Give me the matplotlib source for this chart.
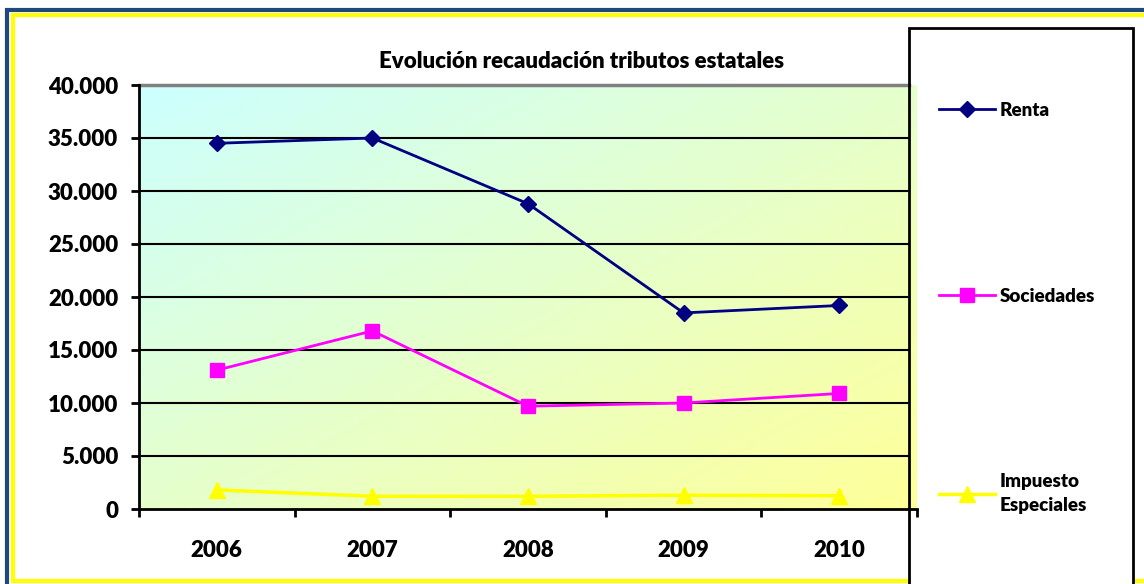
import numpy as np
import matplotlib.pyplot as plt
from matplotlib.patches import Rectangle
from matplotlib.ticker import FuncFormatter

plt.rcParams['font.family'] = ['Lato', 'DejaVu Sans']
plt.rcParams['font.weight'] = 'heavy'

# Recaudación por año (millones de euros)
years = ['2006', '2007', '2008', '2009', '2010']
renta = [34500, 35000, 28800, 18500, 19200]
sociedades = [13100, 16800, 9700, 10000, 10900]
especiales = [1800, 1200, 1200, 1300, 1250]

fig = plt.figure(figsize=(11.44, 5.84), dpi=100)

# marco exterior azul + amarillo
fig.patches.append(Rectangle((7 / 1144, -0.1), 1.2, 1 - 10 / 584 + 0.1, transform=fig.transFigure,
                             facecolor='none', edgecolor='#1f497d', linewidth=3, zorder=-5))
fig.patches.append(Rectangle((12.5 / 1144, 3 / 584), 1.2, 1 - 18 / 584, transform=fig.transFigure,
                             facecolor='white', edgecolor='#ffff00', linewidth=3, zorder=-4))

# caja de la leyenda
lx0 = 909 / 1144
ly1 = 1 - 28 / 584
fig.patches.append(Rectangle((lx0, -0.1), 1133 / 1144 - lx0, ly1 + 0.1, transform=fig.transFigure,
                             facecolor='white', edgecolor='none', zorder=-3))
fig.patches.append(Rectangle((lx0, -0.1), 1133 / 1144 - lx0, ly1 + 0.1, transform=fig.transFigure,
                             facecolor='none', edgecolor='black', linewidth=2, zorder=5))

ax = fig.add_axes([139 / 1144, 1 - 509 / 584, 778 / 1144, 424 / 584])
ax.patch.set_alpha(0)

# fondo degradado: cian arriba a la izquierda, amarillo abajo a la derecha
gx, gy = np.meshgrid(np.linspace(0, 1, 200), np.linspace(0, 1, 200))
t = (gx + gy) / 2
c0 = np.array([0.8, 1.0, 1.0])
c1 = np.array([1.0, 1.0, 0.6])
grad = c0[None, None, :] * (1 - t[..., None]) + c1[None, None, :] * t[..., None]
ax.imshow(grad, extent=[0, 1, 0, 1], transform=ax.transAxes, aspect='auto', zorder=0)

x = np.arange(len(years))
ax.set_xlim(-0.5, len(years) - 0.5)
ax.set_ylim(0, 40000)

for yv in range(5000, 40000, 5000):
    ax.axhline(yv, xmin=0, xmax=0.99, color='black', linewidth=1.5, zorder=1)
ax.axhline(40000, xmin=0, xmax=0.99, color='#808080', linewidth=2.5, zorder=1, clip_on=False)

ax.plot(x, renta, color='#000080', linewidth=2, marker='D', markersize=8, label='Renta', zorder=3)
ax.plot(x, sociedades, color='#ff00ff', linewidth=2, marker='s', markersize=10, label='Sociedades', zorder=3)
ax.plot(x, especiales, color='#ffff00', linewidth=2.5, marker='^', markersize=11,
        label='Impuesto\nEspeciales', zorder=3)

for s in ['top', 'right']:
    ax.spines[s].set_visible(False)
for s in ['left', 'bottom']:
    ax.spines[s].set_linewidth(2)

ax.set_yticks(range(0, 40001, 5000))
ax.yaxis.set_major_formatter(FuncFormatter(lambda v, p: f'{int(v):,}'.replace(',', '.')))
ax.set_xticks(np.arange(-0.5, len(years)))
ax.set_xticklabels([])
ax.set_xticks(x, minor=True)
ax.set_xticklabels(years, minor=True)
ax.tick_params(axis='x', which='minor', length=0, pad=22, labelsize=16)
ax.tick_params(axis='x', which='major', length=6, width=2, direction='out')
ax.tick_params(axis='y', length=6, width=2, pad=9, labelsize=16)

fig.text(582 / 1144, 1 - 62 / 584, 'Evolución recaudación tributos estatales',
         ha='center', va='center', fontsize=16, fontweight='heavy')

handles, labels = ax.get_legend_handles_labels()
leg = fig.legend(handles, labels, loc='upper left', bbox_to_anchor=(939 / 1144, 1 - 102 / 584),
                 frameon=False, fontsize=13.5, labelspacing=9.0, handlelength=3.0,
                 handletextpad=0.25, borderpad=0, borderaxespad=0)
for txt in leg.get_texts():
    txt.set_linespacing(1.45)

fig.savefig('out.png', dpi=100)
